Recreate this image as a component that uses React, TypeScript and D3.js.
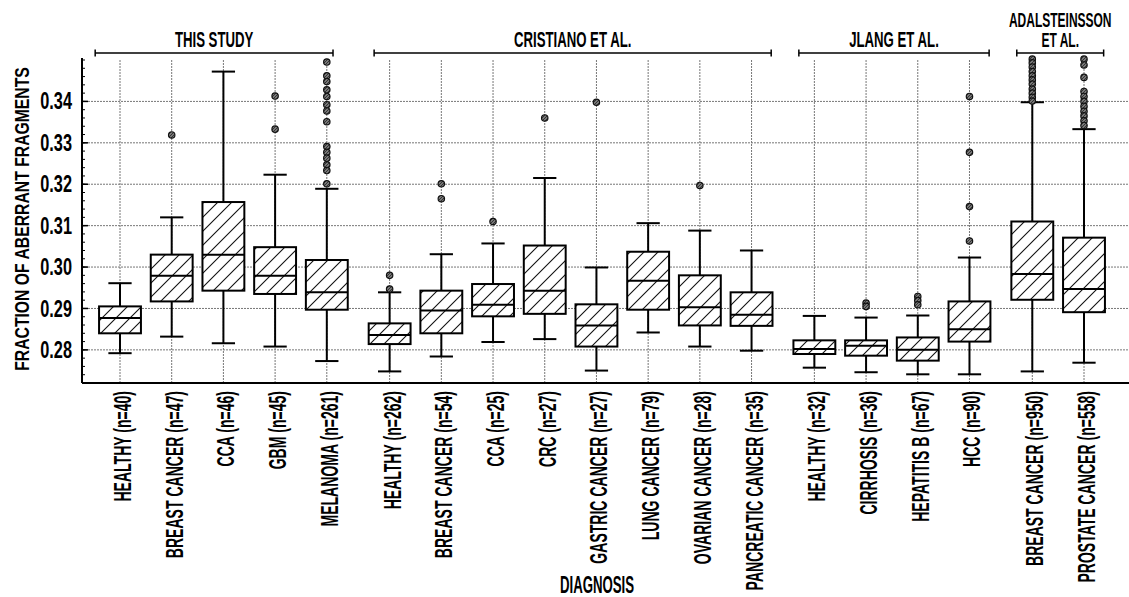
import React from "react";
import * as d3 from "d3";

const categories = [
  "HEALTHY (n=40)", "BREAST CANCER (n=47)", "CCA (n=46)", "GBM (n=45)", "MELANOMA (n=261)",
  "HEALTHY (n=262)", "BREAST CANCER (n=54)", "CCA (n=25)", "CRC (n=27)", "GASTRIC CANCER (n=27)",
  "LUNG CANCER (n=79)", "OVARIAN CANCER (n=28)", "PANCREATIC CANCER (n=35)",
  "HEALTHY (n=32)", "CIRRHOSIS (n=36)", "HEPATITIS B (n=67)", "HCC (n=90)",
  "BREAST CANCER (n=950)", "PROSTATE CANCER (n=558)",
];
const groupOf = [0, 0, 0, 0, 0, 1, 1, 1, 1, 1, 1, 1, 1, 2, 2, 2, 2, 3, 3];
const groupNames = [["THIS STUDY"], ["CRISTIANO ET AL."], ["JLANG ET AL."], ["ADALSTEINSSON", "ET AL."]];

const whiskerLow = [0.2792, 0.2832, 0.2816, 0.2808, 0.2773, 0.2748, 0.2784, 0.2819, 0.2826, 0.2750, 0.2842, 0.2808, 0.2798, 0.2757, 0.2746, 0.2741, 0.2741, 0.2748, 0.2769];
const q1 = [0.2840, 0.2917, 0.2943, 0.2935, 0.2897, 0.2814, 0.2840, 0.2881, 0.2887, 0.2808, 0.2897, 0.2859, 0.2858, 0.2790, 0.2786, 0.2774, 0.2820, 0.2921, 0.2891];
const median = [0.2877, 0.2979, 0.3030, 0.2979, 0.2939, 0.2836, 0.2895, 0.2909, 0.2943, 0.2859, 0.2967, 0.2903, 0.2885, 0.2802, 0.2810, 0.2800, 0.2850, 0.2983, 0.2947];
const q3 = [0.2905, 0.3030, 0.3157, 0.3048, 0.3017, 0.2864, 0.2943, 0.2959, 0.3052, 0.2910, 0.3037, 0.2980, 0.2939, 0.2823, 0.2823, 0.2830, 0.2917, 0.3110, 0.3071];
const whiskerHigh = [0.2961, 0.3120, 0.3472, 0.3223, 0.3189, 0.2939, 0.3031, 0.3057, 0.3215, 0.2999, 0.3106, 0.3088, 0.3040, 0.2882, 0.2878, 0.2883, 0.3023, 0.3398, 0.3333];
const outliers: number[][] = [
  [], [0.3319], [], [0.3413, 0.3333],
  [0.3495, 0.3462, 0.3448, 0.3428, 0.3412, 0.3392, 0.3377, 0.3351, 0.3291, 0.3277, 0.3263, 0.3247, 0.3233, 0.3201],
  [0.2980, 0.2947], [0.3201, 0.3165], [0.3110], [0.3360], [0.3398], [], [0.3197], [],
  [], [0.2913, 0.2905], [0.2929, 0.2919, 0.2909], [0.3412, 0.3277, 0.3146, 0.3063],
  [0.3502, 0.3493, 0.3483, 0.3472, 0.3462, 0.3452, 0.3442, 0.3430, 0.3420, 0.3410, 0.3401],
  [0.3502, 0.3488, 0.3458, 0.3424, 0.3412, 0.3400, 0.3388, 0.3376, 0.3365, 0.3353, 0.3342],
];
const yTicks = [0.28, 0.29, 0.30, 0.31, 0.32, 0.33, 0.34];
const yTitle = "FRACTION OF ABERRANT FRAGMENTS";
const xTitle = "DIAGNOSIS";

const W = 1129, H = 597;
const GAP = 0.215;
const FONT = "'Liberation Sans', Arial, sans-serif";

export default function App() {
  const left = 82, right = 1129, top = 60, bottom = 383;
  const pos = (i: number) => i + groupOf[i] * GAP;
  const x = d3.scaleLinear().domain([0, pos(categories.length - 1)]).range([120, 1084]);
  const y = d3.scaleLinear().domain([0.272, 0.35]).range([bottom, top]);
  const unit = x(1) - x(0);
  const boxW = unit * 0.81;
  const capW = unit * 0.45;
  const minorTicks = d3.range(0.274, 0.3501, 0.002);

  const groups = groupNames.map((name, g) => {
    const idx = categories.map((_, i) => i).filter((i) => groupOf[i] === g);
    const x0 = x(pos(idx[0]) - (g === 0 ? 0.48 : 0.3));
    const x1 = x(pos(idx[idx.length - 1]) + (g === 0 ? 0.12 : 0.38));
    return { name, x0, x1 };
  });

  return (
    <div style={{ position: "absolute", left: 0, top: 0 }}>
      <svg width={W} height={H} style={{ display: "block", background: "#fff" }} fontFamily={FONT}>
        <defs>
          <pattern id="hatch" patternUnits="userSpaceOnUse" width={14} height={14}>
            <path d="M0,14 L14,0 M-4,4 L4,-4 M10,18 L18,10" stroke="#111" strokeWidth={1.1} />
          </pattern>
          <pattern id="hatchDot" patternUnits="userSpaceOnUse" width={3} height={3}>
            <rect width={3} height={3} fill="#777" />
            <path d="M0,3 L3,0" stroke="#222" strokeWidth={0.8} />
          </pattern>
        </defs>

        {/* grid */}
        {yTicks.map((t) => (
          <line key={"hg" + t} x1={left} x2={right} y1={y(t)} y2={y(t)} stroke="#777" strokeWidth={1} strokeDasharray="2,1" />
        ))}
        {categories.map((c, i) => (
          <line key={"vg" + i} x1={x(pos(i))} x2={x(pos(i))} y1={top} y2={bottom} stroke="#777" strokeWidth={1} strokeDasharray="2,1" />
        ))}

        {/* axes */}
        <line x1={left} x2={left} y1={top - 2} y2={bottom} stroke="#000" strokeWidth={2} />
        <line x1={left} x2={right} y1={bottom} y2={bottom} stroke="#000" strokeWidth={2} />
        {minorTicks.map((t) => (
          <line key={"mt" + t} x1={left} x2={left + 3} y1={y(t)} y2={y(t)} stroke="#000" strokeWidth={1} />
        ))}
        {yTicks.map((t) => (
          <g key={"yt" + t}>
            <line x1={left} x2={left + 6} y1={y(t)} y2={y(t)} stroke="#000" strokeWidth={1.5} />
            <text
              transform={`translate(72,${y(t)}) scale(0.71,1)`}
              textAnchor="end"
              dominantBaseline="central"
              fontSize={23}
              fontWeight="bold"
            >
              {d3.format(".2f")(t)}
            </text>
          </g>
        ))}

        {/* boxes */}
        {categories.map((c, i) => {
          const cx = x(pos(i));
          return (
            <g key={"b" + i}>
              <line x1={cx} x2={cx} y1={y(whiskerHigh[i])} y2={y(q3[i])} stroke="#000" strokeWidth={2} />
              <line x1={cx} x2={cx} y1={y(q1[i])} y2={y(whiskerLow[i])} stroke="#000" strokeWidth={2} />
              <line x1={cx - capW / 2} x2={cx + capW / 2} y1={y(whiskerHigh[i])} y2={y(whiskerHigh[i])} stroke="#000" strokeWidth={2} />
              <line x1={cx - capW / 2} x2={cx + capW / 2} y1={y(whiskerLow[i])} y2={y(whiskerLow[i])} stroke="#000" strokeWidth={2} />
              <rect x={cx - boxW / 2} y={y(q3[i])} width={boxW} height={y(q1[i]) - y(q3[i])} fill="#fff" />
              <rect x={cx - boxW / 2} y={y(q3[i])} width={boxW} height={y(q1[i]) - y(q3[i])} fill="url(#hatch)" stroke="#000" strokeWidth={2} />
              <line x1={cx - boxW / 2} x2={cx + boxW / 2} y1={y(median[i])} y2={y(median[i])} stroke="#000" strokeWidth={2} />
              {outliers[i].map((v, k) => (
                <circle key={k} cx={cx} cy={y(v)} r={3.2} fill="url(#hatchDot)" stroke="#111" strokeWidth={1.2} />
              ))}
            </g>
          );
        })}

        {/* x labels */}
        {categories.map((c, i) => (
          <text
            key={"xl" + i}
            transform={`translate(${x(pos(i)) + 11},391) rotate(-90) scale(0.61,1)`}
            textAnchor="end"
            fontSize={23}
            fontWeight="bold"
          >
            {c}
          </text>
        ))}

        {/* group headers */}
        {groups.map((g, k) => (
          <g key={"g" + k}>
            <line x1={g.x0} x2={g.x1} y1={53} y2={53} stroke="#000" strokeWidth={1.5} />
            <line x1={g.x0} x2={g.x0} y1={49.5} y2={56.5} stroke="#000" strokeWidth={1.5} />
            <line x1={g.x1} x2={g.x1} y1={49.5} y2={56.5} stroke="#000" strokeWidth={1.5} />
            {g.name.map((line, j) => (
              <text
                key={j}
                transform={`translate(${(g.x0 + g.x1) / 2},${47 - (g.name.length - 1 - j) * 20}) scale(0.6,1)`}
                textAnchor="middle"
                fontSize={g.name.length > 1 ? 20 : 22}
                fontWeight="bold"
              >
                {line}
              </text>
            ))}
          </g>
        ))}

        {/* titles */}
        <text transform={`translate(29,219) rotate(-90) scale(0.75,1)`} textAnchor="middle" fontSize={21} fontWeight="bold">
          {yTitle}
        </text>
        <text transform={`translate(597,593) scale(0.575,1)`} textAnchor="middle" fontSize={23} fontWeight="bold">
          {xTitle}
        </text>
      </svg>
    </div>
  );
}
